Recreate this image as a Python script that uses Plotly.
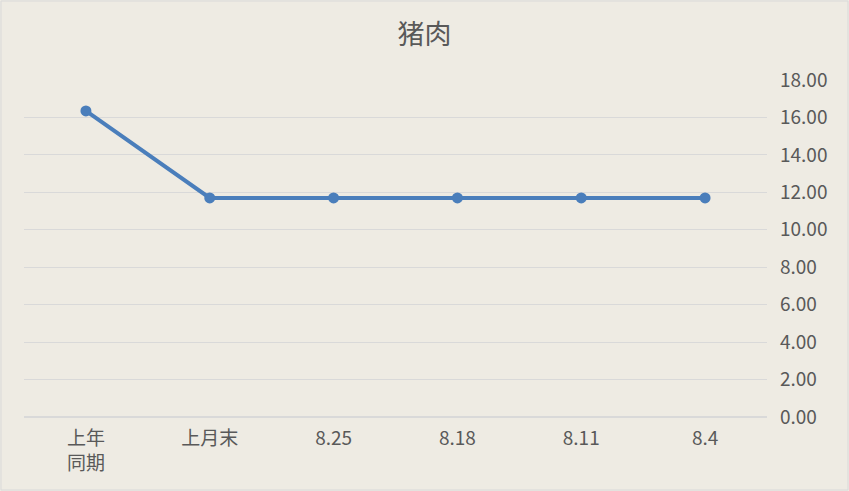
import plotly.graph_objects as go

# categories as shown left to right
categories = ['上年<br>同期', '上月末', '8.25', '8.18', '8.11', '8.4']
prices = [16.35, 11.7, 11.7, 11.7, 11.7, 11.7]
y_ticks = [0, 2, 4, 6, 8, 10, 12, 14, 16, 18]

W, H = 849, 491
ml, mr, mt, mb = 24, 82, 80, 74
pw, ph = W - ml - mr, H - mt - mb

fig = go.Figure(go.Scatter(
    x=categories, y=prices, mode='lines+markers',
    line=dict(color='#4a7ebb', width=4),
    marker=dict(color='#4a7ebb', size=11),
))

fig.update_layout(
    width=W, height=H,
    margin=dict(l=ml, r=mr, t=mt, b=mb),
    paper_bgcolor='#eeebe3', plot_bgcolor='#eeebe3',
    font=dict(family='Noto Sans CJK SC, Noto Sans', color='#595959', size=19),
    title=dict(text='猪肉', x=0.5, xanchor='center', y=1 - 35 / H, yanchor='middle',
               font=dict(size=27, color='#595959')),
    showlegend=False,
    xaxis=dict(showgrid=False, showline=False, ticks='', tickfont=dict(size=19),
               range=[-0.5, len(categories) - 0.5], ticklabelstandoff=8),
    yaxis=dict(side='right', range=[0, 18], tickvals=y_ticks, tickformat='.2f',
               gridcolor='#d9d9d9', gridwidth=1, zeroline=True, zerolinecolor='#d9d9d9',
               showline=False, ticks='', ticklabelstandoff=12),
)

# thin border around the whole chart
fig.add_shape(type='rect', xref='paper', yref='paper',
              x0=-(ml - 1) / pw, x1=1 + (mr - 1) / pw,
              y0=-(mb - 1) / ph, y1=1 + (mt - 1) / ph,
              line=dict(color='#d9d9d9', width=1), layer='below')

fig.write_html('out.html', config={'displayModeBar': False},
               post_script="document.body.style.margin='0';")
